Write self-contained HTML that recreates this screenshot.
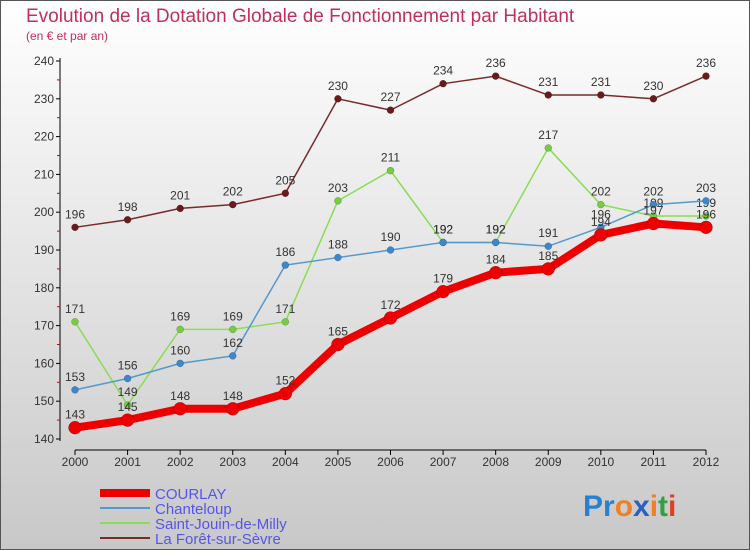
<!DOCTYPE html>
<html><head><meta charset="utf-8"><style>
body{margin:0;width:750px;height:550px;overflow:hidden}
svg{display:block}
text{font-family:"Liberation Sans",sans-serif}
</style></head><body>
<svg width="750" height="550">
<defs><linearGradient id="bg" x1="0" y1="0" x2="0" y2="1"><stop offset="0" stop-color="#ffffff"/><stop offset="1" stop-color="#c8c8c8"/></linearGradient></defs>
<rect x="0.5" y="0.5" width="749" height="549" fill="url(#bg)" stroke="#555"/>
<text x="26" y="22" font-size="19" fill="#c0305a">Evolution de la Dotation Globale de Fonctionnement par Habitant</text>
<text x="26" y="40" font-size="12" fill="#c0305a">(en € et par an)</text>
<g id="axes"></g>
<g id="series"></g>
<g id="legend"></g>
<text x="583" y="516" font-size="30" font-weight="bold"><tspan fill="#2a7fd0">Pr</tspan><tspan fill="#f08020">o</tspan><tspan fill="#2a60c0">x</tspan><tspan fill="#f08020">i</tspan><tspan fill="#30a040">t</tspan><tspan fill="#e04020">i</tspan></text>
</svg>
<script>
const years=[2000,2001,2002,2003,2004,2005,2006,2007,2008,2009,2010,2011,2012];
const yTicks=[140,150,160,170,180,190,200,210,220,230,240];
const courlay=[143,145,148,148,152,165,172,179,184,185,194,197,196];
const chanteloup=[153,156,160,162,186,188,190,192,192,191,196,202,203];
const saintJouin=[171,149,169,169,171,203,211,192,192,217,202,199,199];
const laForet=[196,198,201,202,205,230,227,234,236,231,231,230,236];
const NS='http://www.w3.org/2000/svg';
const X=i=>75+i*(706-75)/12;
const Y=v=>439-(v-140)*(439-61)/100;
function mk(tag,attrs,parent){const e=document.createElementNS(NS,tag);for(const k in attrs)e.setAttribute(k,attrs[k]);parent.appendChild(e);return e;}
const ax=document.getElementById('axes');
mk('line',{x1:60,y1:58,x2:60,y2:441,stroke:'#000'},ax);
mk('line',{x1:75,y1:450,x2:706,y2:450,stroke:'#000'},ax);
yTicks.forEach(v=>{
  mk('line',{x1:56,y1:Y(v),x2:60,y2:Y(v),stroke:'#000'},ax);
  if(v<240) mk('line',{x1:57,y1:Y(v+5),x2:60,y2:Y(v+5),stroke:'#d00'},ax);
  const t=mk('text',{x:54,y:Y(v)+4,'font-size':12,'text-anchor':'end',fill:'#333'},ax);
  
  
  t.textContent=v;
});
years.forEach((yr,i)=>{
  mk('line',{x1:X(i),y1:450,x2:X(i),y2:455,stroke:'#000'},ax);
  const t=mk('text',{x:X(i),y:466,'font-size':12,'text-anchor':'middle',fill:'#333'},ax);
  
  
  t.textContent=yr;
});
const sg=document.getElementById('series');
function drawSeries(vals,color,dot,w,r,name){
  const g=mk('g',{},sg);
  
  
  mk('polyline',{points:vals.map((v,i)=>X(i)+','+Y(v)).join(' '),fill:'none',stroke:color,'stroke-width':w,'stroke-linejoin':'round'},g);
  vals.forEach((v,i)=>{
    const c=mk('circle',{cx:X(i),cy:Y(v),r:r,fill:dot,stroke:'rgba(0,0,0,0.3)','stroke-width':0.5},g);
    
    
    const t=mk('text',{x:X(i),y:Y(v)-9,'font-size':12,'text-anchor':'middle',fill:'#333'},g);
    
    
    t.textContent=v;
  });
}
drawSeries(laForet,'#7a2a2a','#6a1a1a',1.5,3.5,'series-la-foret');
drawSeries(saintJouin,'#88dd55','#77cc44',1.5,3.5,'series-saint-jouin');
drawSeries(chanteloup,'#5599cc','#3d88cc',1.5,3.5,'series-chanteloup');
drawSeries(courlay,'#ee0000','#ee0000',8,6.5,'series-courlay');
const lg=document.getElementById('legend');
const leg=[['COURLAY','#ee0000',8],['Chanteloup','#5599cc',2],['Saint-Jouin-de-Milly','#88dd55',2],['La Forêt-sur-Sèvre','#7a2a2a',2]];
leg.forEach((l,i)=>{
  const y=493+i*15;
  const g=mk('g',{},lg);
  
  
  mk('line',{x1:100,y1:y,x2:150,y2:y,stroke:l[1],'stroke-width':l[2]},g);
  const t=mk('text',{x:155,y:y+6,'font-size':15,fill:'#5555ee'},g);
  t.textContent=l[0];
});
</script>
</body></html>
